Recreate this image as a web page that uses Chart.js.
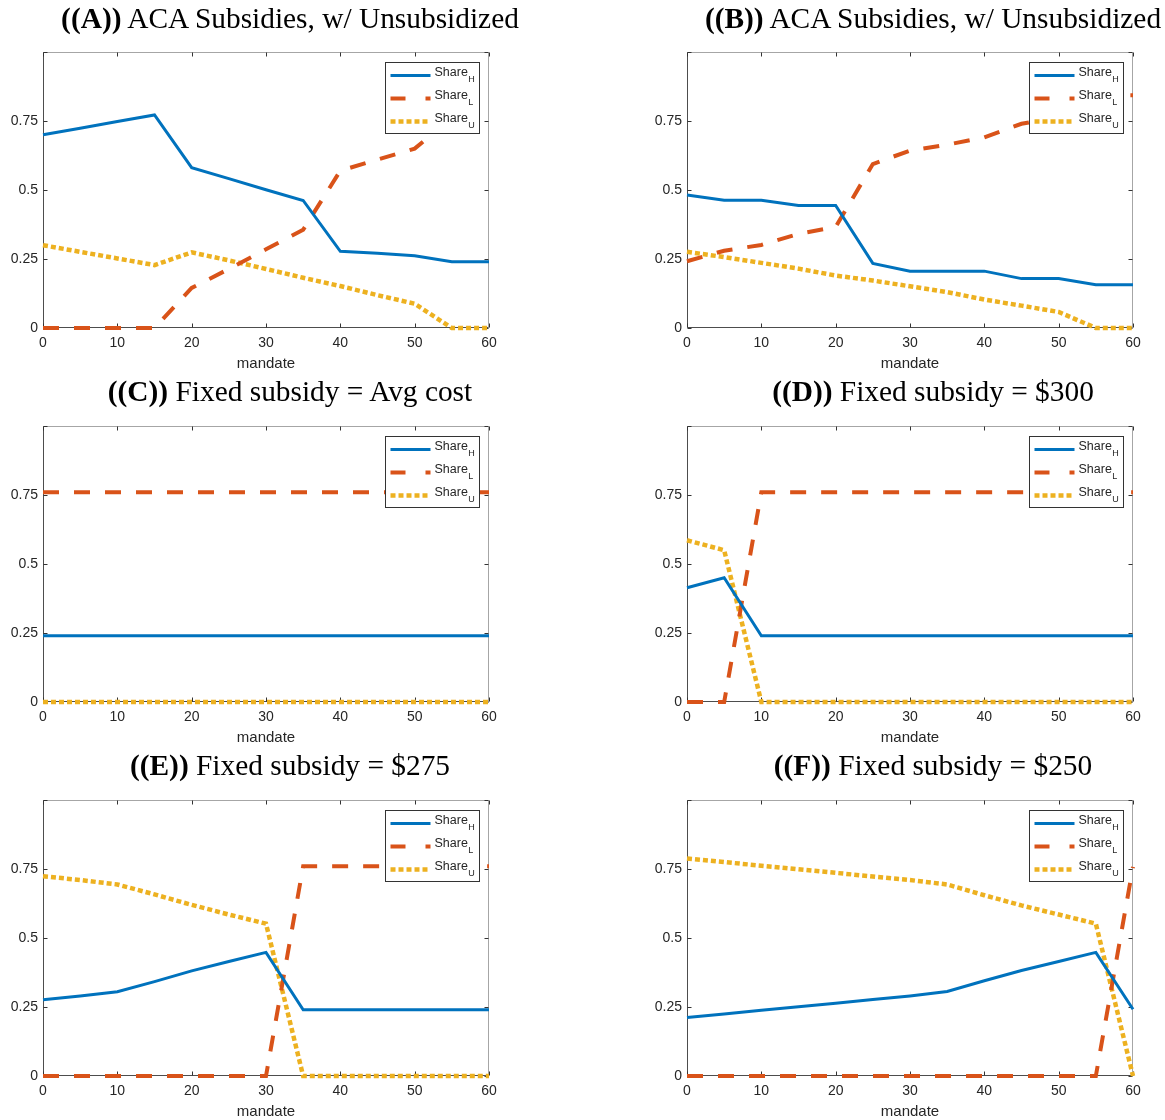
<!DOCTYPE html>
<html><head><meta charset="utf-8">
<script src="https://cdn.jsdelivr.net/npm/chart.js@4.4.1/dist/chart.umd.min.js"></script>
<style>
html,body{margin:0;padding:0;background:#fff;width:1165px;height:1120px;overflow:hidden;position:relative}
.panel{position:absolute}
.ttl{position:absolute;white-space:nowrap;font-family:"Liberation Serif","Times New Roman",serif;color:#000;line-height:1}
.ttl b{font-weight:bold}
</style></head><body>
<script>
// ---------- data ----------
const mandate = [0,5,10,15,20,25,30,35,40,45,50,55,60];
const xTicks = [0,10,20,30,40,50,60];
const yTicks = [0,0.25,0.5,0.75,1];
const xAxisLabel = 'mandate';
const legendBase = 'Share';
const seriesSubs = ['H','L','U'];
const panelLetters = ['A','B','C','D','E','F'];
const panelCaptions = [
  'ACA Subsidies, w/ Unsubsidized',
  'ACA Subsidies, w/ Unsubsidized',
  'Fixed subsidy = Avg cost',
  'Fixed subsidy = $300',
  'Fixed subsidy = $275',
  'Fixed subsidy = $250'
];

const shareH_A = [0.700,0.724,0.748,0.772,0.581,0.541,0.501,0.462,0.278,0.271,0.262,0.240,0.240];
const shareL_A = [0,0,0,0,0.145,0.214,0.285,0.356,0.570,0.610,0.650,0.760,0.760];
const shareU_A = [0.300,0.276,0.252,0.228,0.274,0.245,0.214,0.182,0.152,0.119,0.088,0,0];

const shareH_B = [0.482,0.463,0.463,0.444,0.444,0.234,0.206,0.206,0.206,0.179,0.179,0.157,0.157];
const shareL_B = [0.242,0.280,0.301,0.341,0.366,0.594,0.643,0.664,0.691,0.740,0.763,0.843,0.843];
const shareU_B = [0.276,0.257,0.236,0.215,0.190,0.172,0.151,0.130,0.103,0.081,0.058,0,0];

const shareH_C = [0.24,0.24,0.24,0.24,0.24,0.24,0.24,0.24,0.24,0.24,0.24,0.24,0.24];
const shareL_C = [0.76,0.76,0.76,0.76,0.76,0.76,0.76,0.76,0.76,0.76,0.76,0.76,0.76];
const shareU_C = [0,0,0,0,0,0,0,0,0,0,0,0,0];

const shareH_D = [0.414,0.450,0.240,0.240,0.240,0.240,0.240,0.240,0.240,0.240,0.240,0.240,0.240];
const shareL_D = [0,0,0.760,0.760,0.760,0.760,0.760,0.760,0.760,0.760,0.760,0.760,0.760];
const shareU_D = [0.586,0.550,0,0,0,0,0,0,0,0,0,0,0];

const shareH_E = [0.276,0.290,0.305,0.342,0.381,0.415,0.448,0.240,0.240,0.240,0.240,0.240,0.240];
const shareL_E = [0,0,0,0,0,0,0,0.760,0.760,0.760,0.760,0.760,0.760];
const shareU_E = [0.724,0.710,0.694,0.658,0.620,0.585,0.552,0,0,0,0,0,0];

const shareH_F = [0.212,0.225,0.238,0.251,0.264,0.277,0.290,0.306,0.345,0.382,0.415,0.448,0.242];
const shareL_F = [0,0,0,0,0,0,0,0,0,0,0,0,0.758];
const shareU_F = [0.788,0.775,0.762,0.749,0.736,0.723,0.710,0.694,0.655,0.618,0.585,0.552,0];

const panelSeries = [
  [shareH_A, shareL_A, shareU_A],
  [shareH_B, shareL_B, shareU_B],
  [shareH_C, shareL_C, shareU_C],
  [shareH_D, shareL_D, shareU_D],
  [shareH_E, shareL_E, shareU_E],
  [shareH_F, shareL_F, shareU_F]
];

// ---------- styles / layout ----------
const colors = ['#0072BD','#D95319','#EDB120'];
const widths = [3,4,4.5];
const dashes = [[],[16,15],[5,3]];
const colLeft = [0,644], colWidth = [540,521];
const rowTop = [0,374,748], panelH = 374;
const titleCX = [290,933], titleCY = [18,391,765];
const FONT = '"Liberation Sans", Arial, Helvetica, sans-serif';
const TXT = '#262626';

Chart.defaults.font.family = FONT;
Chart.defaults.color = TXT;

const matlabAxes = {
  id:'matlabAxes',
  beforeDatasetsDraw(chart){
    const {ctx, chartArea:a, scales:{x,y}} = chart;
    ctx.save();
    ctx.lineWidth = 1;
    const L = Math.round(a.left)+0.5, R = Math.round(a.right)-0.5, T = Math.round(a.top)+0.5, B = Math.round(a.bottom)-0.5;
    ctx.strokeStyle = '#a6a6a6';
    ctx.beginPath(); ctx.moveTo(L,T); ctx.lineTo(R,T); ctx.lineTo(R,B); ctx.stroke();
    ctx.strokeStyle = '#4d4d4d';
    ctx.beginPath(); ctx.moveTo(L,T); ctx.lineTo(L,B); ctx.lineTo(R,B); ctx.stroke();
    ctx.strokeStyle = '#333';
    ctx.beginPath();
    xTicks.forEach(v=>{
      const px = Math.round(x.getPixelForValue(v))+0.5;
      ctx.moveTo(px,B); ctx.lineTo(px,B-4);
      ctx.moveTo(px,T); ctx.lineTo(px,T+4);
    });
    yTicks.forEach(v=>{
      const py = Math.round(y.getPixelForValue(v))+0.5;
      ctx.moveTo(L,py); ctx.lineTo(L+4,py);
      ctx.moveTo(R,py); ctx.lineTo(R-4,py);
    });
    ctx.stroke();
    ctx.restore();
  },
  afterDatasetsDraw(chart){
    const {ctx, chartArea:a} = chart;
    ctx.save();
    const w = 94, h = 71;
    const L = Math.round(a.right - 10 - w)+0.5, T = Math.round(a.top + 10)+0.5;
    ctx.fillStyle = '#fff'; ctx.fillRect(L,T,w,h);
    ctx.lineWidth = 1; ctx.strokeStyle = '#333'; ctx.strokeRect(L,T,w,h);
    chart.data.datasets.forEach((ds,i)=>{
      const ry = T + 13 + i*23;
      ctx.save();
      ctx.setLineDash(i===1 ? [15,20] : dashes[i]);
      ctx.lineWidth = widths[i]; ctx.strokeStyle = colors[i]; ctx.lineCap = 'butt';
      ctx.beginPath(); ctx.moveTo(L+5,ry); ctx.lineTo(L+45,ry); ctx.stroke();
      ctx.restore();
      ctx.fillStyle = TXT; ctx.textBaseline = 'middle'; ctx.textAlign = 'left';
      ctx.font = '12.5px ' + FONT;
      ctx.fillText(legendBase, L+49, ry-3);
      const tw = ctx.measureText(legendBase).width;
      ctx.font = '9px ' + FONT;
      ctx.fillText(seriesSubs[i], L+49+tw+0.5, ry+4);
    });
    ctx.restore();
  }
};

panelSeries.forEach((series, p)=>{
  const col = p % 2, row = Math.floor(p/2);
  const div = document.createElement('div');
  div.className = 'panel';
  div.style.left = colLeft[col]+'px'; div.style.top = rowTop[row]+'px';
  div.style.width = colWidth[col]+'px'; div.style.height = panelH+'px';
  const cv = document.createElement('canvas');
  cv.width = colWidth[col]; cv.height = panelH;
  cv.style.width = colWidth[col]+'px'; cv.style.height = panelH+'px';
  div.appendChild(cv);
  document.body.appendChild(div);

  new Chart(cv.getContext('2d'), {
    type:'line',
    data:{
      datasets: series.map((vals,i)=>({
        label: legendBase + '_' + seriesSubs[i],
        data: mandate.map((m,k)=>({x:m, y:vals[k]})),
        borderColor: colors[i], backgroundColor: colors[i],
        borderWidth: widths[i], borderDash: dashes[i],
        borderCapStyle:'butt', borderJoinStyle:'miter',
        pointRadius:0, pointHoverRadius:0, tension:0, fill:false, clip:6
      }))
    },
    options:{
      responsive:false, animation:false, devicePixelRatio:1,
      events:[],
      layout:{padding:{left:0, top:52, right: colWidth[col]-489, bottom:0}},
      plugins:{legend:{display:false}, tooltip:{enabled:false}, title:{display:false}},
      scales:{
        x:{
          type:'linear', min:0, max:60,
          afterBuildTicks(s){ s.ticks = xTicks.map(v=>({value:v})); },
          afterFit(s){ s.height = 46; },
          grid:{display:false, drawTicks:false}, border:{display:false},
          ticks:{padding:7, font:{size:14}, color:TXT, maxRotation:0, autoSkip:false},
          title:{display:true, text:xAxisLabel, font:{size:15}, color:TXT, padding:{top:0,bottom:1}}
        },
        y:{
          type:'linear', min:0, max:1,
          afterBuildTicks(s){ s.ticks = yTicks.map(v=>({value:v})); },
          afterFit(s){ s.width = 43; },
          grid:{display:false, drawTicks:false}, border:{display:false},
          ticks:{padding:5, font:{size:14}, color:TXT, autoSkip:false,
            callback:(v)=> v===1 ? '' : String(v)}
        }
      }
    },
    plugins:[matlabAxes]
  });
});

// ---------- titles (real text) ----------
const titleEls = [];
panelLetters.forEach((letter,p)=>{
  const t = document.createElement('div');
  t.className = 'ttl';
  t.style.fontSize = '26px';
  const b = document.createElement('b'); b.textContent = '((' + letter + '))';
  t.appendChild(b);
  t.appendChild(document.createTextNode(' ' + panelCaptions[p]));
  document.body.appendChild(t);
  titleEls.push(t);
});
const w0 = titleEls[0].getBoundingClientRect().width;
const fs = 26 * 458 / w0;
titleEls.forEach((t,p)=>{
  const col = p % 2, row = Math.floor(p/2);
  t.style.fontSize = fs + 'px';
  const r = t.getBoundingClientRect();
  t.style.left = (titleCX[col] - r.width/2) + 'px';
  t.style.top = (titleCY[row] - r.height/2 + 1) + 'px';
});
</script>
</body></html>
